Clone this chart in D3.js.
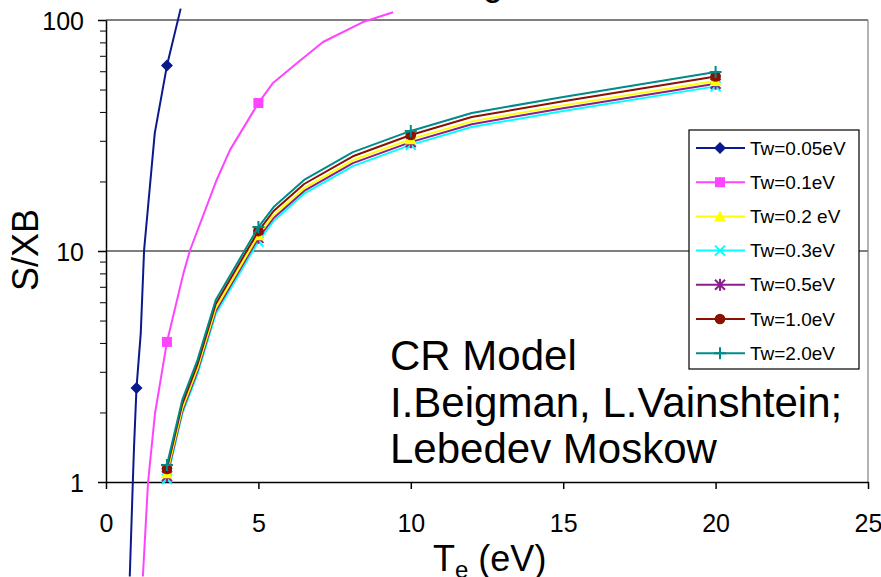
<!DOCTYPE html>
<html>
<head>
<meta charset="utf-8">
<script src="https://cdn.jsdelivr.net/npm/d3@7"></script>
<style>
  body { margin: 0; background: #fff; }
  svg { display: block; font-family: "Liberation Sans", Arial, sans-serif; }
  .axis path, .axis line { stroke: #000; }
</style>
</head>
<body>
<div id="chart"></div>
<script>
// Chart size
var width = 881;
var height = 577;

// Plot area (pixels)
var plotLeft = 106, plotRight = 868, plotTop = 20, plotBottom = 482;

// Data
var seriesNames = ["Tw=0.05eV", "Tw=0.1eV", "Tw=0.2 eV", "Tw=0.3eV", "Tw=0.5eV", "Tw=1.0eV", "Tw=2.0eV"];
var seriesColors = ["#0a1a8c", "#ff44ff", "#ffff00", "#00ffff", "#8a1f8a", "#8b1200", "#008b8b"];
var seriesMarkers = ["diamond", "square", "triangle", "times", "asterisk", "circle", "plus"];

var xTw005 = [0.78, 0.88, 0.92, 1.0, 1.14, 1.25, 1.6, 2.0, 2.45];
var yTw005 = [0.39, 1.0, 1.42, 2.55, 4.4, 10.1, 32.4, 63.5, 112];
var markTw005 = [1, 2];

var xTw01 = [1.21, 1.38, 1.61, 2.0, 2.54, 2.76, 3.63, 4.07, 5.0, 5.48, 6.27, 7.12, 8.43, 9.42];
var yTw01 = [0.39, 1.0, 1.99, 4.04, 8.0, 10.1, 20.3, 27.4, 43.7, 53.4, 65.2, 80.3, 98, 108];
var markTw01 = [2, 5];

var xCluster = [2, 2.5, 3, 3.6, 5, 5.5, 6.5, 8.1, 10, 12, 15, 20];
var yTw02 = [1.09, 2.08, 3.10, 5.65, 11.7, 14.3, 18.7, 24.7, 30.5, 36.4, 42.7, 54.5];
var yTw03 = [1.03, 1.97, 2.93, 5.34, 11.0, 13.5, 17.7, 23.3, 28.8, 34.4, 40.4, 51.6];
var yTw05 = [1.06, 2.02, 3.02, 5.5, 11.4, 13.9, 18.2, 24.0, 29.6, 35.4, 41.5, 53.0];
var yTw10 = [1.14, 2.17, 3.23, 5.9, 12.2, 14.9, 19.5, 25.7, 31.8, 38.0, 44.5, 57.0];
var yTw20 = [1.185, 2.26, 3.37, 6.14, 12.7, 15.5, 20.3, 26.8, 33.1, 39.6, 46.4, 59.5];
var markCluster = [2, 5, 10, 20];

var xTicks = [0, 5, 10, 15, 20, 25];
var yTicks = [1, 10, 100];
var yMinorTicks = [2, 3, 4, 5, 6, 7, 8, 9, 20, 30, 40, 50, 60, 70, 80, 90];

var noteLines = ["CR Model", "I.Beigman, L.Vainshtein;", "Lebedev Moskow"];

// Build series list
var allX = [xTw005, xTw01, xCluster, xCluster, xCluster, xCluster, xCluster];
var allY = [yTw005, yTw01, yTw02, yTw03, yTw05, yTw10, yTw20];
var allMarks = [markTw005, markTw01, markCluster, markCluster, markCluster, markCluster, markCluster];

var series = seriesNames.map(function(name, i) {
  var pts = allX[i].map(function(x, j) { return {x: x, y: allY[i][j]}; });
  return {
    name: name,
    color: seriesColors[i],
    marker: seriesMarkers[i],
    points: pts,
    marks: pts.filter(function(p) { return allMarks[i].indexOf(p.x) >= 0; })
  };
});

// Draw order in the original: back to front
var drawOrder = [0, 1, 3, 4, 2, 5, 6];

var svg = d3.select("#chart")
  .append("svg")
  .attr("width", width)
  .attr("height", height);

var xScale = d3.scaleLinear().domain([0, 25]).range([plotLeft, plotRight]);
var yScale = d3.scaleLog().domain([1, 100]).range([plotBottom, plotTop]);

// Title, cut off at the top edge (only descenders show)
svg.append("text")
  .attr("x", 451)
  .attr("y", -5)
  .attr("font-size", 36)
  .text("Signal, Hα");

// Gridlines and frame
svg.selectAll(".grid")
  .data([10, 100])
  .enter()
  .append("line")
  .attr("x1", plotLeft)
  .attr("x2", plotRight)
  .attr("y1", function(d) { return yScale(d); })
  .attr("y2", function(d) { return yScale(d); })
  .attr("stroke", "#000")
  .attr("stroke-width", 1.2);

svg.append("line")
  .attr("x1", plotRight).attr("x2", plotRight)
  .attr("y1", plotTop).attr("y2", plotBottom)
  .attr("stroke", "#808080")
  .attr("stroke-width", 1.2);

// Y axis (log): major + minor ticks
var yAxis = d3.axisLeft(yScale)
  .tickValues(yTicks)
  .tickFormat(d3.format("d"))
  .tickSize(8)
  .tickSizeOuter(0)
  .tickPadding(14);

var yAxisG = svg.append("g")
  .attr("class", "axis")
  .attr("transform", "translate(" + plotLeft + ",0)")
  .call(yAxis);
yAxisG.selectAll("text")
  .attr("font-size", 25)
  .attr("font-family", "Liberation Sans, Arial, sans-serif")
  .attr("fill", "#000")
  .attr("dy", "0.36em");

svg.append("g")
  .attr("class", "axis")
  .attr("transform", "translate(" + plotLeft + ",0)")
  .call(d3.axisLeft(yScale).tickValues(yMinorTicks).tickFormat("").tickSize(6).tickSizeOuter(0))
  .select(".domain").remove();

// X axis
var xAxis = d3.axisBottom(xScale)
  .tickValues(xTicks)
  .tickSize(7)
  .tickSizeOuter(0)
  .tickPadding(25);

var xAxisG = svg.append("g")
  .attr("class", "axis")
  .attr("transform", "translate(0," + plotBottom + ")")
  .call(xAxis);
xAxisG.selectAll("text")
  .attr("font-size", 25)
  .attr("font-family", "Liberation Sans, Arial, sans-serif")
  .attr("fill", "#000");
xAxisG.selectAll("path, line").attr("stroke-width", 1.5);
yAxisG.selectAll("path, line").attr("stroke-width", 1.5);

// Axis titles
svg.append("text")
  .attr("transform", "translate(38,250)rotate(-90)")
  .attr("text-anchor", "middle")
  .attr("font-size", 36)
  .text("S/XB");

var xTitle = svg.append("text")
  .attr("x", 433)
  .attr("y", 571)
  .attr("font-size", 36);
xTitle.append("tspan").text("T");
xTitle.append("tspan").attr("font-size", 24).attr("dy", 7).text("e");
xTitle.append("tspan").attr("dy", -7).text(" (eV)");

// Marker shapes
function markerPath(type, s) {
  var h = s / 2;
  if (type === "diamond") return "M0," + (-h - 1) + "L" + (h + 1) + ",0L0," + (h + 1) + "L" + (-h - 1) + ",0Z";
  if (type === "square") return "M" + (-h) + "," + (-h) + "H" + h + "V" + h + "H" + (-h) + "Z";
  if (type === "triangle") return "M0," + (-h - 1) + "L" + (h + 1) + "," + h + "L" + (-h - 1) + "," + h + "Z";
  if (type === "times") return "M" + (-h) + "," + (-h) + "L" + h + "," + h + "M" + h + "," + (-h) + "L" + (-h) + "," + h;
  if (type === "plus") return "M0," + (-h - 1) + "V" + (h + 1) + "M" + (-h - 1) + ",0H" + (h + 1);
  if (type === "asterisk") return "M" + (-h) + "," + (-h) + "L" + h + "," + h + "M" + h + "," + (-h) + "L" + (-h) + "," + h + "M0," + (-h - 1) + "V" + (h + 1);
  return d3.symbol().type(d3.symbolCircle).size(s * s * 0.9)();
}
var strokeMarkers = ["times", "plus", "asterisk"];

function drawMarker(g, type, color, cx, cy) {
  var isStroke = strokeMarkers.indexOf(type) >= 0;
  g.append("path")
    .attr("transform", "translate(" + cx + "," + cy + ")")
    .attr("d", markerPath(type, 10))
    .attr("fill", isStroke ? "none" : color)
    .attr("stroke", isStroke ? color : "none")
    .attr("stroke-width", isStroke ? 2 : 0);
}

// Lines
var line = d3.line()
  .x(function(d) { return xScale(d.x); })
  .y(function(d) { return yScale(d.y); });

drawOrder.forEach(function(i) {
  var s = series[i];
  var g = svg.append("g").attr("class", "series");
  g.append("path")
    .datum(s.points)
    .attr("d", line)
    .attr("fill", "none")
    .attr("stroke", s.color)
    .attr("stroke-width", 2)
    .attr("stroke-linejoin", "round");
  s.marks.forEach(function(p) {
    drawMarker(g, s.marker, s.color, xScale(p.x), yScale(p.y));
  });
});

// Annotation
svg.append("g")
  .selectAll("text")
  .data(noteLines)
  .enter()
  .append("text")
  .attr("x", 390)
  .attr("y", function(d, i) { return 370 + i * 46.5; })
  .attr("font-size", 42)
  .text(function(d) { return d; });

// Legend
var legend = svg.append("g").attr("transform", "translate(689,130)");
legend.append("rect")
  .attr("width", 170)
  .attr("height", 239)
  .attr("fill", "#fff")
  .attr("stroke", "#000")
  .attr("stroke-width", 1.2);

series.forEach(function(s, i) {
  var ly = 18 + i * 34.2;
  var item = legend.append("g");
  item.append("line")
    .attr("x1", 7).attr("x2", 56)
    .attr("y1", ly).attr("y2", ly)
    .attr("stroke", s.color)
    .attr("stroke-width", 2);
  drawMarker(item, s.marker, s.color, 31, ly);
  item.append("text")
    .attr("x", 61)
    .attr("y", ly + 6.5)
    .attr("font-size", 19)
    .text(s.name);
});
</script>
</body>
</html>
